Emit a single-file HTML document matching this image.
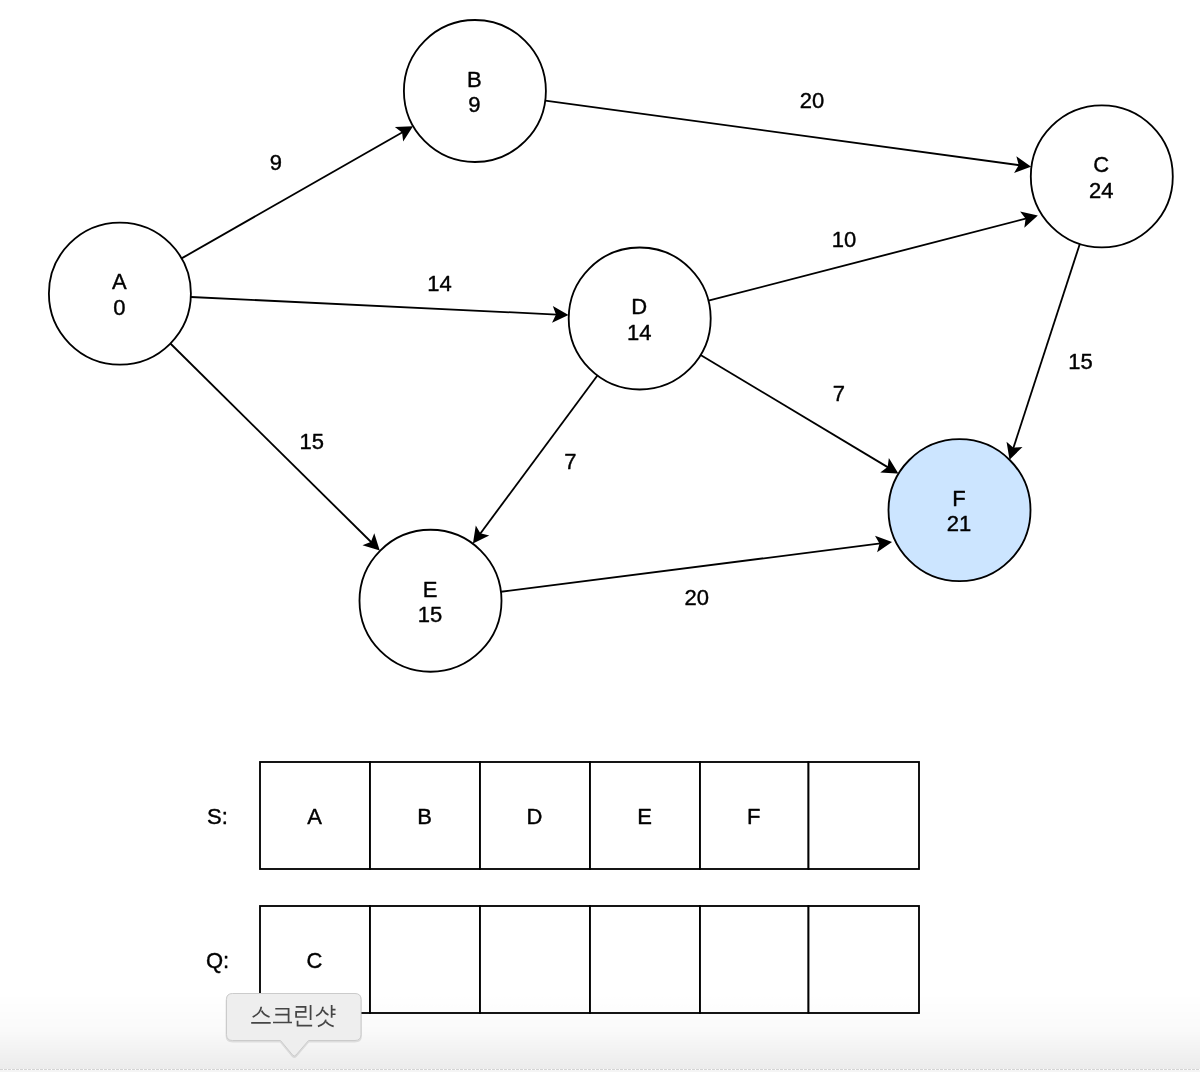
<!DOCTYPE html>
<html><head><meta charset="utf-8"><title>Dijkstra</title>
<style>
html,body{margin:0;padding:0;background:#fff;}
body{width:1200px;height:1072px;overflow:hidden;position:relative;font-family:"Liberation Sans",sans-serif;}
svg{position:absolute;left:0;top:0;display:block;will-change:transform;}
text{font-family:"Liberation Sans",sans-serif;font-size:22px;fill:#000;text-anchor:middle;stroke:#000;stroke-width:0.4px;stroke-linejoin:round;}
.ln{stroke:#000;stroke-width:1.83;fill:none;}
.ah{fill:#000;stroke:#000;stroke-width:1.83;stroke-linejoin:miter;stroke-miterlimit:10;}
.nd{fill:#fff;stroke:#000;stroke-width:1.83;}
.cell{fill:#fff;stroke:#000;stroke-width:1.83;}
</style></head><body>
<svg width="1200" height="1072" viewBox="0 0 1200 1072">
<defs>
<linearGradient id="dock" x1="0" y1="0" x2="0" y2="1">
<stop offset="0" stop-color="#000" stop-opacity="0"/><stop offset="0.5" stop-color="#000" stop-opacity="0.02"/><stop offset="0.84" stop-color="#000" stop-opacity="0.059"/><stop offset="1" stop-color="#000" stop-opacity="0.075"/>
</linearGradient>
</defs>

<rect class="cell" x="260" y="762" width="110" height="107"/>
<text x="314.5" y="823.5">A</text>
<rect class="cell" x="370" y="762" width="110" height="107"/>
<text x="424.5" y="823.5">B</text>
<rect class="cell" x="480" y="762" width="110" height="107"/>
<text x="534.5" y="823.5">D</text>
<rect class="cell" x="590" y="762" width="110" height="107"/>
<text x="644.5" y="823.5">E</text>
<rect class="cell" x="700" y="762" width="108.5" height="107"/>
<text x="753.75" y="823.5">F</text>
<rect class="cell" x="808.5" y="762" width="110.5" height="107"/>
<text x="217.5" y="823.5">S:</text>
<rect class="cell" x="260" y="906" width="110" height="107"/>
<text x="314.5" y="967.5">C</text>
<rect class="cell" x="370" y="906" width="110" height="107"/>
<rect class="cell" x="480" y="906" width="110" height="107"/>
<rect class="cell" x="590" y="906" width="110" height="107"/>
<rect class="cell" x="700" y="906" width="108.5" height="107"/>
<rect class="cell" x="808.5" y="906" width="110.5" height="107"/>
<text x="217.5" y="967.5">Q:</text>
<path class="ln" d="M181.56 258.41L402.94 132.07"/>
<path class="ah" d="M411.28 127.31L403.78 138.96L402.94 132.07L397.43 127.84Z"/>
<path class="ln" d="M190.82 297L556.94 314.54"/>
<path class="ah" d="M566.54 315L553.95 320.8L556.94 314.54L554.56 308.01Z"/>
<path class="ln" d="M170.38 343.52L371.59 542.49"/>
<path class="ah" d="M378.42 549.25L365.17 545.15L371.59 542.49L374.18 536.04Z"/>
<path class="ln" d="M545.25 100.58L1019.7 165.22"/>
<path class="ah" d="M1029.22 166.51L1016.17 171.2L1019.7 165.22L1017.9 158.51Z"/>
<path class="ln" d="M708.44 300.71L1026.59 218.39"/>
<path class="ah" d="M1035.89 215.99L1025.59 225.27L1026.59 218.39L1022.38 212.87Z"/>
<path class="ln" d="M700.6 355L888.44 467.6"/>
<path class="ah" d="M896.68 472.54L882.83 471.71L888.44 467.6L889.42 460.72Z"/>
<path class="ln" d="M597.42 375.54L479.84 534.19"/>
<path class="ah" d="M474.11 541.91L476.29 528.21L479.84 534.19L486.58 535.84Z"/>
<path class="ln" d="M1079.81 243.91L1013.13 448.68"/>
<path class="ah" d="M1010.15 457.81L1007.87 444.13L1013.13 448.68L1020.05 448.1Z"/>
<path class="ln" d="M500.93 591.78L880.53 543.46"/>
<path class="ah" d="M890.06 542.24L878.67 550.15L880.53 543.46L877.05 537.44Z"/>
<circle class="nd" cx="119.9" cy="293.6" r="71" style="fill:#fff"/>
<text x="119.4" y="289.4">A</text>
<text x="119.4" y="314.8">0</text>
<circle class="nd" cx="474.9" cy="91" r="71" style="fill:#fff"/>
<text x="474.4" y="86.8">B</text>
<text x="474.4" y="112.2">9</text>
<circle class="nd" cx="1101.8" cy="176.4" r="71" style="fill:#fff"/>
<text x="1101.3" y="172.2">C</text>
<text x="1101.3" y="197.6">24</text>
<circle class="nd" cx="639.7" cy="318.5" r="71" style="fill:#fff"/>
<text x="639.2" y="314.3">D</text>
<text x="639.2" y="339.7">14</text>
<circle class="nd" cx="430.5" cy="600.75" r="71" style="fill:#fff"/>
<text x="430" y="596.55">E</text>
<text x="430" y="621.95">15</text>
<circle class="nd" cx="959.5" cy="510.2" r="71" style="fill:#cce5ff"/>
<text x="959" y="506">F</text>
<text x="959" y="531.4">21</text>
<text x="275.9" y="170.2">9</text>
<text x="439.4" y="291">14</text>
<text x="812.1" y="108.4">20</text>
<text x="843.9" y="246.8">10</text>
<text x="1080.4" y="369.1">15</text>
<text x="838.8" y="401.2">7</text>
<text x="311.7" y="449.1">15</text>
<text x="570.4" y="469">7</text>
<text x="696.7" y="605.4">20</text>
<rect x="0" y="993" width="1200" height="76" fill="url(#dock)"/>
<path d="M0 1069.5H1200" stroke="#d4d4d4" stroke-width="1" stroke-dasharray="3 1" fill="none"/>
<rect x="0" y="1070" width="1200" height="2" fill="#f5f5f5"/>
<path d="M232.5 993.5H355Q361 993.5 361 999.5V1034.5Q361 1040.5 355 1040.5H308.5L296 1055Q294.3 1057 292.6 1055L280.5 1040.5H232.5Q226.5 1040.5 226.5 1034.5V999.5Q226.5 993.5 232.5 993.5Z" transform="translate(0,1)" fill="none" stroke="#000" stroke-opacity="0.10" stroke-width="2"/>
<path d="M232.5 993.5H355Q361 993.5 361 999.5V1034.5Q361 1040.5 355 1040.5H308.5L296 1055Q294.3 1057 292.6 1055L280.5 1040.5H232.5Q226.5 1040.5 226.5 1034.5V999.5Q226.5 993.5 232.5 993.5Z" fill="#eeeeee" stroke="#cbcbcb" stroke-width="1"/>
<g transform="translate(240,995) scale(0.091667)" fill="none" stroke="#454545" stroke-width="19" stroke-linecap="butt" stroke-linejoin="miter">
<path d="M232 128Q225 200 138 240M236 170Q255 215 322 240M122 305H335"/>
<path d="M385 150H530V300M385 215H530M360 300H567"/>
<path d="M608 130H715V185H612V240H728M770 108V272M628 280V335H787"/>
<path d="M905 128Q900 195 830 230M908 165Q925 200 965 218M1000 108V248M1000 160H1042M1000 210H1042M937 268Q930 315 850 342M940 290Q960 325 1022 342"/>
</g>
</svg></body></html>
